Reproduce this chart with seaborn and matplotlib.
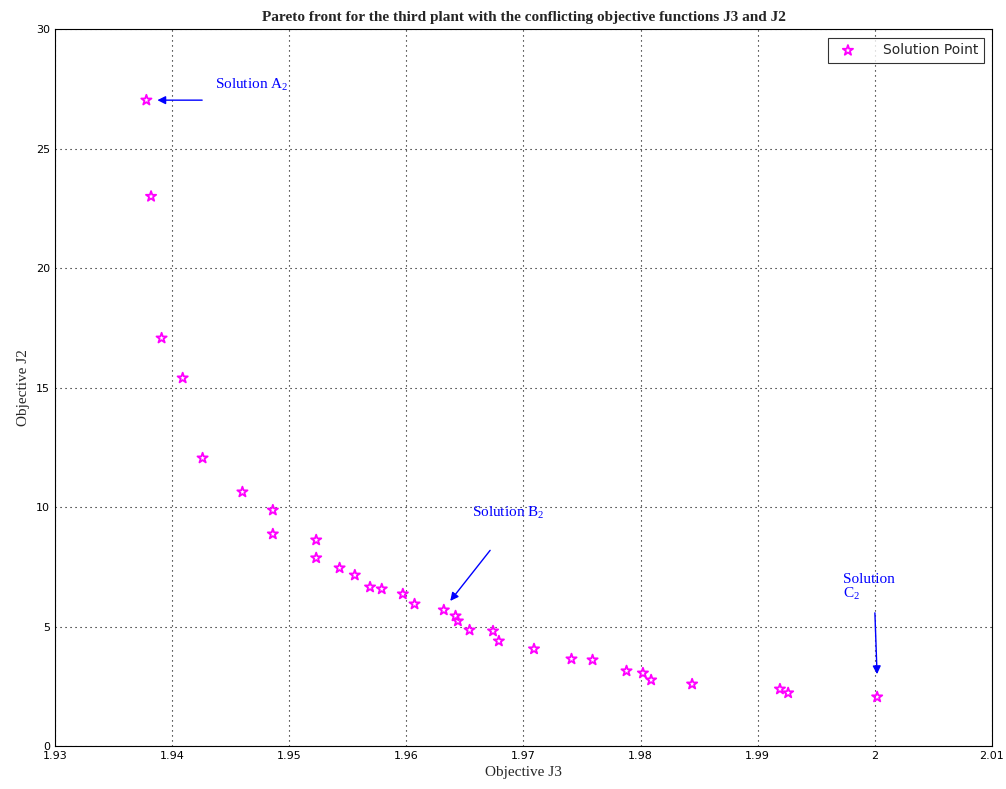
import matplotlib
matplotlib.use("Agg")
import matplotlib.pyplot as plt
import seaborn as sns
import pandas as pd

# Pareto front points
j3 = [1.9378, 1.9382, 1.9391, 1.9409, 1.9426, 1.9460, 1.9486, 1.9486,
      1.9523, 1.9523, 1.9543, 1.9556, 1.9569, 1.9579, 1.9597, 1.9607,
      1.9632, 1.9642, 1.9644, 1.9654, 1.9674, 1.9679, 1.9709, 1.9741,
      1.9759, 1.9788, 1.9802, 1.9809, 1.9844, 1.9919, 1.9926, 2.0002]
j2 = [27.03, 23.00, 17.07, 15.40, 12.05, 10.63, 9.87, 8.87,
      8.62, 7.87, 7.45, 7.15, 6.65, 6.57, 6.36, 5.94,
      5.69, 5.44, 5.23, 4.85, 4.81, 4.39, 4.06, 3.64,
      3.60, 3.14, 3.05, 2.76, 2.59, 2.38, 2.22, 2.05]

x_ticks = [1.93, 1.94, 1.95, 1.96, 1.97, 1.98, 1.99, 2.0, 2.01]
x_tick_labels = ["1.93", "1.94", "1.95", "1.96", "1.97", "1.98", "1.99", "2", "2.01"]
y_ticks = [0, 5, 10, 15, 20, 25, 30]

df = pd.DataFrame({"J3": j3, "J2": j2})

sns.set_style("white")
plt.rcParams['font.family'] = ['DejaVu Sans']
plt.rcParams['mathtext.fontset'] = 'custom'
plt.rcParams['mathtext.rm'] = 'Liberation Serif'

fig = plt.figure(figsize=(10.06, 7.89), dpi=100)
ax = fig.add_axes([0.0547, 0.0545, 0.9313, 0.9085])

sns.scatterplot(data=df, x="J3", y="J2", ax=ax, marker="*", s=60,
                facecolor="none", edgecolor="magenta", linewidth=1.3,
                label="Solution Point")

ax.set_xlim(1.93, 2.01)
ax.set_ylim(0, 30)
ax.set_xticks(x_ticks)
ax.set_xticklabels(x_tick_labels)
ax.set_yticks(y_ticks)
ax.tick_params(direction="in", length=5, labelsize=8, colors="black")
ax.grid(True, linestyle=(0, (1, 3.5)), color="black", linewidth=0.8)
for s in ax.spines.values():
    s.set_color("black")
    s.set_linewidth(0.8)

serif = "Liberation Serif"
ax.set_xlabel("Objective J3", fontsize=11, family=serif)
ax.set_ylabel("Objective J2", fontsize=11, family=serif)
ax.set_title("Pareto front for the third plant with the conflicting objective functions J3 and J2",
             fontsize=11, family=serif, fontweight="bold", pad=6)

arrow = dict(arrowstyle="-|>", color="blue", lw=1.0, mutation_scale=12)
ax.annotate("", xy=(1.9385, 27.03), xytext=(1.9428, 27.03), arrowprops=arrow)
ax.text(1.9437, 27.5, r"Solution A$\mathrm{_2}$", color="blue", fontsize=11, family=serif)
ax.annotate("", xy=(1.9636, 5.98), xytext=(1.9673, 8.28), arrowprops=arrow)
ax.text(1.9656, 9.6, r"Solution B$\mathrm{_2}$", color="blue", fontsize=11, family=serif)
ax.annotate("", xy=(2.0002, 2.89), xytext=(2.0000, 5.69), arrowprops=arrow)
ax.text(1.9973, 6.2, "Solution\nC$\\mathrm{_2}$", color="blue", fontsize=11, family=serif,
        linespacing=0.95)

leg = ax.legend(loc="upper right", fontsize=10, frameon=True, fancybox=False,
                borderaxespad=0.6, handletextpad=1.5)
leg.get_frame().set_edgecolor("black")
leg.get_frame().set_linewidth(0.8)

fig.savefig("out.png", dpi=100, facecolor="white")
